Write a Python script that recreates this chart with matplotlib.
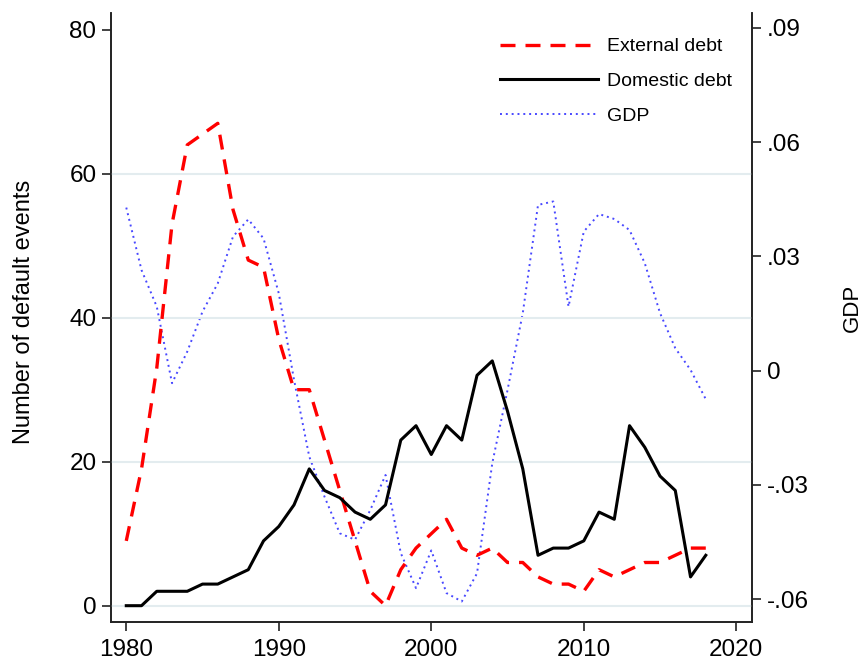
import matplotlib
matplotlib.use("Agg")
import matplotlib.pyplot as plt
from matplotlib.lines import Line2D

plt.rcParams['font.family'] = ['Liberation Sans', 'DejaVu Sans']

years = list(range(1980, 2019))
external_debt = [9, 19, 33, 53, 64, 65.5, 67, 55, 48, 47, 37, 30, 30, 23, 16, 9, 2, 0, 5, 8,
                 10, 12, 8, 7, 8, 6, 6, 4, 3, 3, 2, 5, 4, 5, 6, 6, 7, 8, 8]
domestic_debt = [0, 0, 2, 2, 2, 3, 3, 4, 5, 9, 11, 14, 19, 16, 15, 13, 12, 14, 23, 25,
                 21, 25, 23, 32, 34, 27, 19, 7, 8, 8, 9, 13, 12, 25, 22, 18, 16, 4, 7]
gdp = [0.0428, 0.0264, 0.0168, -0.0033, 0.0050, 0.0155, 0.0229, 0.0352, 0.0397, 0.0347,
       0.0203, -0.0024, -0.0226, -0.0331, -0.0427, -0.0444, -0.0366, -0.0274, -0.0479, -0.0571,
       -0.0472, -0.0584, -0.0606, -0.0532, -0.0243, -0.0051, 0.0151, 0.0435, 0.0444, 0.0168,
       0.0365, 0.0411, 0.0398, 0.0369, 0.0282, 0.0151, 0.0059, 0.0002, -0.0075]

left_ticks = [0, 20, 40, 60, 80]
right_ticks = [-0.06, -0.03, 0, 0.03, 0.06, 0.09]
right_labels = ['-.06', '-.03', '0', '.03', '.06', '.09']
x_ticks = [1980, 1990, 2000, 2010, 2020]
legend_labels = ['External debt', 'Domestic debt', 'GDP']

fig = plt.figure(figsize=(8.66, 6.61), dpi=100)
ax = fig.add_axes([0.1282, 0.0595, 0.8687 - 0.1282, 0.9799 - 0.0595])
ax2 = ax.twinx()

grid_c = '#e3ecef'
for t in left_ticks[:-1]:
    ax.axhline(t, color=grid_c, lw=1.5, zorder=0)

red, = ax.plot(years, external_debt, color='#ff0000', lw=2.4, dashes=(4.5, 3.0),
               solid_capstyle='butt', dash_capstyle='butt', zorder=3)
blk, = ax.plot(years, domestic_debt, color='black', lw=2.2, zorder=3)
blu, = ax2.plot(years, gdp, color='#4848ff', lw=1.4, linestyle=(0, (1, 2.0)), zorder=2)

ax.set_xlim(1979.0, 2021.05)
ax.set_ylim(-2.22, 82.28)
ax2.set_ylim(-0.0659, 0.0938)

ax.set_xticks(x_ticks)
ax.set_yticks(left_ticks)
ax.set_yticklabels([str(t) for t in left_ticks])
ax2.set_yticks(right_ticks)
ax2.set_yticklabels(right_labels)

for a in (ax, ax2):
    a.spines['top'].set_visible(False)
    for s in ('left', 'right', 'bottom'):
        a.spines[s].set_linewidth(1.2)
        a.spines[s].set_color('#222222')

ax.tick_params(axis='both', labelsize=17.5, length=6.5, width=1.2, color='#222222')
ax.tick_params(axis='x', pad=6)
ax.tick_params(axis='y', pad=4)
ax2.tick_params(axis='y', labelsize=17.5, length=6.5, width=1.2, color='#222222', pad=4)

ax.set_ylabel('Number of default events', fontsize=17)
ax2.set_ylabel('GDP', fontsize=16)
ax.yaxis.set_label_coords(-0.119, 0.509)
ax2.yaxis.set_label_coords(1.140, 0.516)

ax.set_zorder(ax2.get_zorder() + 1)
ax.patch.set_visible(False)

handles = [Line2D([], [], color='#ff0000', lw=2.4, dashes=(4.5, 3.0)),
           Line2D([], [], color='black', lw=2.2),
           Line2D([], [], color='#4848ff', lw=1.4, linestyle=(0, (1, 2.0)))]
ax.legend(handles, legend_labels, loc='upper right', bbox_to_anchor=(0.99, 0.982),
          frameon=False, fontsize=14, handlelength=5.0, handletextpad=0.5,
          labelspacing=0.88, borderaxespad=0.3)

fig.savefig('out.png', dpi=100)
